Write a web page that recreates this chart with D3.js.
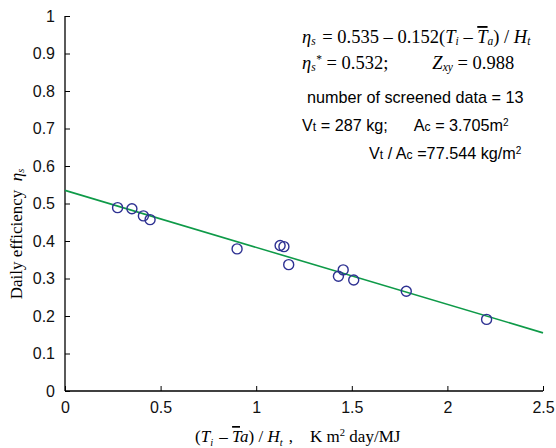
<!DOCTYPE html>
<html>
<head>
<meta charset="utf-8">
<script src="https://cdn.jsdelivr.net/npm/d3@7"></script>
<style>
  body { margin: 0; background: #fff; }
  svg text { font-family: "Liberation Sans", Arial, sans-serif; white-space: pre; }
  .serif { font-family: "Liberation Serif", "Times New Roman", serif; }
</style>
</head>
<body>
<div id="chart"></div>
<script>
// measured points (T_i - Ta)/H_t vs daily efficiency
const xVals = [0.275, 0.35, 0.41, 0.445, 0.90, 1.125, 1.145, 1.17, 1.43, 1.455, 1.51, 1.785, 2.205];
const yVals = [0.489, 0.486, 0.467, 0.457, 0.379, 0.388, 0.385, 0.337, 0.306, 0.323, 0.296, 0.266, 0.191];
// fitted line end points
const fitX = [0, 2.5];
const fitY = [0.535, 0.155];
const xTicks = [0, 0.5, 1, 1.5, 2, 2.5];
const yTicks = [0, 0.1, 0.2, 0.3, 0.4, 0.5, 0.6, 0.7, 0.8, 0.9, 1];

const margin = {top: 16, right: 13, bottom: 57, left: 65},
      width = 556 - margin.left - margin.right,
      height = 448 - margin.top - margin.bottom;

const root = d3.select("#chart").append("svg")
  .attr("width", 556).attr("height", 448);
const svg = root.append("g")
  .attr("transform", `translate(${margin.left},${margin.top})`);

const x = d3.scaleLinear().domain([0, 2.5]).range([0, width]);
const y = d3.scaleLinear().domain([0, 1]).range([height, 0]);

// axes, ticks drawn inward
const ax = svg.append("g").attr("transform", `translate(0,${height})`)
  .call(d3.axisBottom(x).tickValues(xTicks).tickSize(-5).tickPadding(11).tickFormat(d3.format("~g")));
const ay = svg.append("g")
  .call(d3.axisLeft(y).tickValues(yTicks).tickSize(-5).tickPadding(10).tickFormat(d3.format("~g")));
[ax, ay].forEach(a => {
  a.select(".domain").attr("stroke", "#000").attr("stroke-width", 1.3);
  a.selectAll(".tick line").attr("stroke", "#000");
  a.selectAll("text").attr("font-size", 16).attr("fill", "#111")
    .attr("font-family", "Liberation Sans, Arial, sans-serif");
});
ax.select(".domain").attr("d", `M0,0H${width}`);
ay.select(".domain").attr("d", `M0,${height}V0`);

// fit line
svg.append("path")
  .datum(fitX.map((d, i) => [d, fitY[i]]))
  .attr("fill", "none")
  .attr("stroke", "#0e9a48")
  .attr("stroke-width", 1.6)
  .attr("d", d3.line().x(d => x(d[0])).y(d => y(d[1])));

// data points
svg.selectAll(".pt")
  .data(xVals.map((d, i) => [d, yVals[i]]))
  .enter().append("circle")
  .attr("class", "pt")
  .attr("cx", d => x(d[0]))
  .attr("cy", d => y(d[1]))
  .attr("r", 5)
  .attr("fill", "none")
  .attr("stroke", "#2e3192")
  .attr("stroke-width", 1.4);

// helper for text with runs
function rich(parent, px, py, size, runs, cls) {
  const t = parent.append("text").attr("x", px).attr("y", py)
    .attr("font-size", size).attr("fill", "#000");
  if (cls) t.attr("class", cls);
  runs.forEach(r => {
    const s = t.append("tspan").text(r.t);
    if (r.i) s.attr("font-style", "italic");
    if (r.sub) s.attr("font-size", size * (r.k || 0.62)).attr("baseline-shift", r.bs || "-22%");
    if (r.sup) s.attr("font-size", size * 0.62).attr("baseline-shift", "55%");
    if (r.over) s.style("text-decoration", "overline");
    if (r.dx) s.attr("dx", r.dx);
  });
  return t;
}

rich(root, 302, 43, 18.5, [
  {t: "η", i: 1}, {t: "s", i: 1, sub: 1},
  {t: " = 0.535 – 0.152(", dx: 2}, {t: "T", i: 1}, {t: "i", i: 1, sub: 1},
  {t: " – "}, {t: "T", i: 1, over: 1}, {t: "a", i: 1, sub: 1},
  {t: ") / "}, {t: "H", i: 1}, {t: "t", i: 1, sub: 1}
], "serif");

rich(root, 302, 69, 18.5, [
  {t: "η", i: 1}, {t: "s", i: 1, sub: 1}, {t: "*", sup: 1, dx: 0.5},
  {t: " = 0.532;", dx: 0}, {t: "Z", i: 1, dx: 44}, {t: "xy", i: 1, sub: 1}, {t: " = 0.988"}
], "serif");

root.append("text").attr("x", 307).attr("y", 103).attr("font-size", 16.2)
  .text("number of screened data = 13");

rich(root, 302, 131, 16.2, [
  {t: "V"}, {t: "t", sub: 1, k: 0.75, bs: "0%"}, {t: " = 287 kg;"},
  {t: "A", dx: 26}, {t: "c", sub: 1, k: 0.75, bs: "0%"}, {t: " = 3.705m"}, {t: "2", sup: 1}
]);

rich(root, 369, 159, 16.2, [
  {t: "V"}, {t: "t", sub: 1, k: 0.75, bs: "0%"}, {t: " / A"}, {t: "c", sub: 1, k: 0.75, bs: "0%"},
  {t: " =77.544 kg/m"}, {t: "2", sup: 1}
]);

// axis titles
rich(root, 195, 442, 17, [
  {t: "("}, {t: "T", i: 1}, {t: "i", i: 1, sub: 1, bs: "-35%"}, {t: " – ", dx: 2},
  {t: "T", i: 1, over: 1}, {t: "a", i: 1}, {t: ") / "}, {t: "H", i: 1}, {t: "t", i: 1, sub: 1, bs: "-35%"},
  {t: " ,    K m", dx: 2}, {t: "2", sup: 1}, {t: " day/MJ"}
], "serif");

rich(root, 0, 0, 17, [
  {t: "Daily efficiency  "}, {t: "η", i: 1}, {t: "s", i: 1, sub: 1}
], "serif").attr("text-anchor", "middle")
  .attr("transform", "translate(22,234) rotate(-90)");
</script>
</body>
</html>
